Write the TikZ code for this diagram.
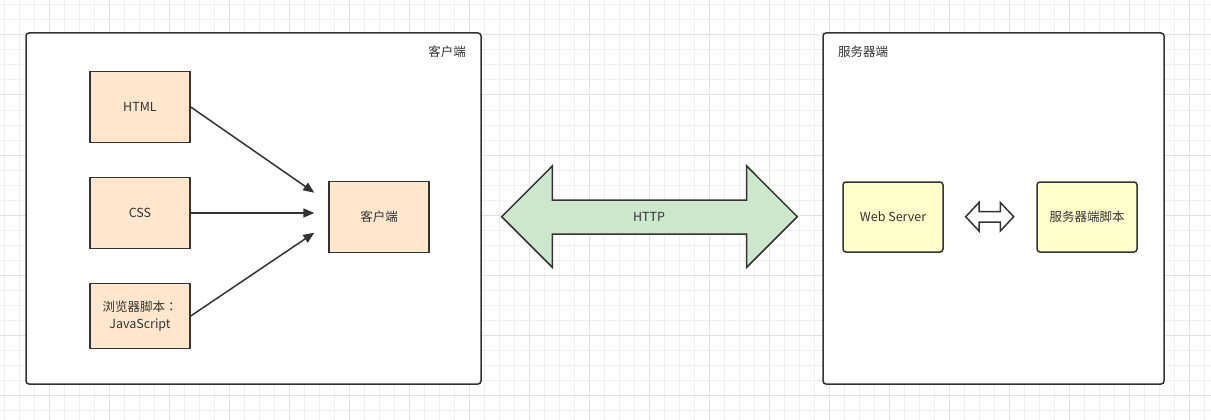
\documentclass[tikz,border=0pt]{standalone}
\usepackage{fontspec}
\setmainfont{Noto Sans CJK SC}
\newfontfamily\tcpunct{Noto Sans CJK TC}
\usetikzlibrary{arrows.meta}
\definecolor{ink}{HTML}{333333}
\definecolor{gridminor}{HTML}{F0F0F0}
\definecolor{gridmajor}{HTML}{E2E2E2}
\definecolor{orangefill}{HTML}{FFE6CC}
\definecolor{yellowfill}{HTML}{FFFFCC}
\definecolor{greenfill}{HTML}{CDE7CD}
\tikzset{
  container/.style={draw=ink, line width=1.5pt, rounded corners=3pt, fill=white},
  orangebox/.style={draw=ink, line width=1.5pt, fill=orangefill, minimum width=100pt, inner sep=0pt, text=ink, font=\fontsize{12.5}{16.5}\selectfont, align=center},
  yellowbox/.style={draw=ink, line width=1.5pt, fill=yellowfill, rounded corners=3pt, minimum width=100pt, minimum height=70pt, inner sep=0pt, text=ink, font=\fontsize{12.5}{15}\selectfont},
  conn/.style={draw=ink, line width=1.5pt, -{Triangle[length=11pt,width=9pt]}},
  lbl/.style={text=ink, font=\fontsize{12.5}{15}\selectfont, inner sep=0pt},
  bigarrow/.style={draw=ink, line width=1.5pt, fill=greenfill, line join=miter},
  smallarrow/.style={draw=ink, line width=1.5pt, fill=white, line join=miter}
}
\begin{document}
\begin{tikzpicture}[x=1pt,y=-1pt]
\useasboundingbox (0,0) rectangle (1211,420);
\fill[white] (0,0) rectangle (1211,420);
% grid
\foreach \i in {0,...,80} \draw[gridminor, line width=1pt] ({4.3+15*\i},0) -- ++(0,420);
\foreach \i in {0,...,27} \draw[gridminor, line width=1pt] (0,{5+15*\i}) -- ++(1211,0);
\foreach \i in {0,...,19} \draw[gridmajor, line width=1pt] ({49.3+60*\i},0) -- ++(0,420);
\foreach \i in {0,...,6} \draw[gridmajor, line width=1pt] (0,{35+60*\i}) -- ++(1211,0);
% containers
\draw[container] (26,33) rectangle (481,384);
\draw[container] (823,33) rectangle (1164,384);
\node[lbl, anchor=east] (clientlbl) at (466,52) {客户端};
\node[lbl, anchor=west] (serverlbl) at (838,52) {服务器端};
% client nodes
\node[orangebox, minimum height=71pt] (html) at (140,107) {HTML};
\node[orangebox, minimum height=71pt] (css) at (140,213) {CSS};
\node[orangebox, minimum height=64.6pt] (js) at (140,316) {浏览器脚本{\tcpunct ：}\\JavaScript};
\node[orangebox, minimum height=71pt] (client) at (379,217) {客户端};
\coordinate (t1) at (314.3,192.7);
\coordinate (t2) at (314.3,213);
\coordinate (t3) at (314.3,232.7);
\draw[conn] (html.east) -- (t1);
\draw[conn] (css.east) -- (t2);
\draw[conn] (js.east) -- (t3);
% HTTP arrow
\draw[bigarrow] (501.7,216.7) -- (552.3,166) -- (552.3,200) -- (746.7,200) -- (746.7,166)
  -- (797.3,216.7) -- (746.7,267.3) -- (746.7,234) -- (552.3,234) -- (552.3,267.3) -- cycle;
\node[lbl] (http) at (649,216.7) {HTTP};
% server nodes
\node[yellowbox] (web) at (893,217) {Web Server};
\node[yellowbox] (script) at (1087,217) {服务器端脚本};
\draw[smallarrow] (965.7,216.7) -- (979,202.5) -- (979,211.7) -- (1000.3,211.7) -- (1000.3,202.5)
  -- (1013.7,216.7) -- (1000.3,231) -- (1000.3,222) -- (979,222) -- (979,231) -- cycle;
\end{tikzpicture}
\end{document}
